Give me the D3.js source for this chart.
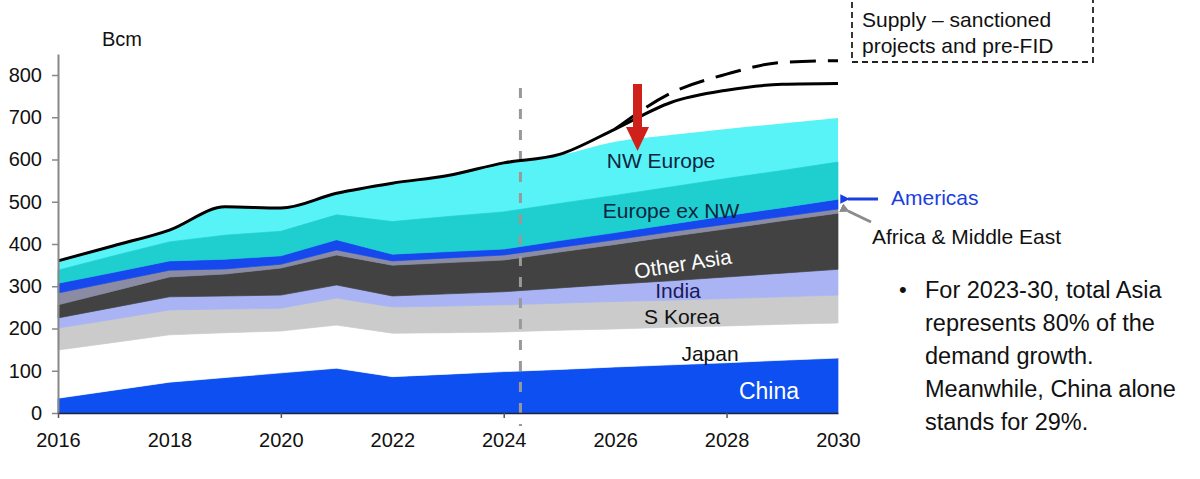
<!DOCTYPE html>
<html>
<head>
<meta charset="utf-8">
<script src="https://cdn.jsdelivr.net/npm/d3@7"></script>
<style>
  body { margin: 0; background: #fff; }
  svg { font-family: "Liberation Sans", Arial, sans-serif; }
</style>
</head>
<body>
<svg></svg>
<script>
// data (Bcm)
var years = [2016, 2017, 2018, 2019, 2020, 2021, 2022, 2023, 2024, 2025, 2026, 2027, 2028, 2029, 2030];
var china     = [35, 54, 73, 84, 95, 106, 86, 92, 98, 103, 109, 114, 119, 125, 130];
var japan     = [114, 113, 112, 106, 99, 102, 103, 98, 94, 93, 90, 89, 87, 85, 83];
var sKorea    = [52, 55, 59, 56, 54, 64, 62, 63, 64, 64, 65, 64, 65, 65, 66];
var india     = [24, 28, 31, 31, 31, 31, 26, 29, 31, 36, 41, 46, 51, 56, 61];
var otherAsia = [31, 39, 47, 52, 64, 71, 73, 74, 75, 85, 94, 105, 114, 124, 133];
var africaME  = [28, 22, 16, 12, 9, 12, 10, 11, 12, 11, 11, 11, 11, 10, 10];
var americas  = [23, 22, 22, 23, 20, 24, 16, 15, 14, 16, 17, 18, 20, 21, 23];
var europeExNW = [31, 39, 45, 57, 58, 59, 77, 83, 88, 88, 88, 88, 88, 88, 88];
var nwEurope  = [22, 24, 28, 67, 55, 51, 91, 97, 116, 114, 127, 123, 117, 111, 104];

var supply = [360, 396, 433, 488, 485, 520, 544, 562, 592, 612, 672, 735, 764, 778, 780];
var preFidYears = [2026, 2027, 2028, 2029, 2030];
var preFid = [672, 757, 802, 830, 834];

var keys = ["China", "Japan", "S Korea", "India", "Other Asia", "Africa & Middle East", "Americas", "Europe ex NW", "NW Europe"];
var series = [china, japan, sKorea, india, otherAsia, africaME, americas, europeExNW, nwEurope];
var colors = ["#0d4ff0", "#ffffff", "#cbcbcb", "#aab4f4", "#424242", "#8b8ba3", "#1648ee", "#1fcfd0", "#58f3f6"];

var xTicks = [2016, 2018, 2020, 2022, 2024, 2026, 2028, 2030];
var yTicks = [0, 100, 200, 300, 400, 500, 600, 700, 800];

// basic settings
var svgWidth = 1200, svgHeight = 479;
var left = 58, right = 838, bottom = 413;

var svg = d3.select('svg')
  .attr('width', svgWidth)
  .attr('height', svgHeight);

var x = d3.scaleLinear().domain([2016, 2030]).range([left, right]);
var y = d3.scaleLinear().domain([0, 850]).range([bottom, bottom - 850 * 0.4225]);

var rows = years.map(function(yr, i) {
  var r = { year: yr };
  keys.forEach(function(k, j) { r[k] = series[j][i]; });
  return r;
});

var stacked = d3.stack().keys(keys)(rows);
var topLayer = stacked[stacked.length - 1];

// the top layer gets the smooth edge of the total line, drawn as a backdrop
svg.append('path')
  .attr('d', d3.area()
    .x(function(d) { return x(d.data.year); })
    .y0(y(0))
    .y1(function(d) { return y(d[1]); })
    .curve(d3.curveMonotoneX)(topLayer))
  .attr('fill', colors[colors.length - 1]);

var area = d3.area()
  .x(function(d) { return x(d.data.year); })
  .y0(function(d) { return y(d[0]); })
  .y1(function(d) { return y(d[1]); });

svg.append('g').selectAll('path')
  .data(stacked.slice(0, -1))
  .enter()
  .append('path')
  .attr('d', area)
  .attr('fill', function(d, i) { return colors[i]; })
  .attr('stroke', function(d, i) { return colors[i]; })
  .attr('stroke-width', 0.7);

// forecast marker
svg.append('line')
  .attr('x1', x(2024.3)).attr('x2', x(2024.3))
  .attr('y1', 88).attr('y2', 426)
  .attr('stroke', '#999')
  .attr('stroke-width', 3)
  .attr('stroke-dasharray', '10,11');

// supply lines
var line = d3.line()
  .x(function(d) { return x(d[0]); })
  .y(function(d) { return y(d[1]); })
  .curve(d3.curveMonotoneX);

svg.append('path')
  .attr('d', line(years.map(function(yr, i) { return [yr, supply[i]]; })))
  .attr('fill', 'none')
  .attr('stroke', '#000')
  .attr('stroke-width', 3);

svg.append('path')
  .attr('d', line(preFidYears.map(function(yr, i) { return [yr, preFid[i]]; })))
  .attr('fill', 'none')
  .attr('stroke', '#000')
  .attr('stroke-width', 3)
  .attr('stroke-dasharray', '26,12');

// axes
var yAxis = d3.axisLeft(y)
  .tickValues(yTicks)
  .tickSize(6)
  .tickSizeOuter(0)
  .tickPadding(10);

var yAxisEle = svg.append('g')
  .attr('transform', 'translate(' + left + ',0)')
  .call(yAxis);
yAxisEle.select('.domain').attr('stroke', '#888').attr('stroke-width', 2);
yAxisEle.selectAll('line').attr('stroke', '#888').attr('stroke-width', 1.5);
yAxisEle.selectAll('text').attr('font-size', 20).attr('fill', '#111').attr('font-family', null);

var xAxis = d3.axisBottom(x)
  .tickValues(xTicks)
  .tickFormat(d3.format('d'))
  .tickSize(5)
  .tickSizeOuter(0)
  .tickPadding(15);

var xAxisEle = svg.append('g')
  .attr('transform', 'translate(0,' + bottom + ')')
  .call(xAxis);
xAxisEle.select('.domain').attr('stroke', '#223').attr('stroke-width', 1.5);
xAxisEle.selectAll('line')
  .attr('stroke', '#555')
  .attr('stroke-width', 1.5)
  .attr('display', function(d) { return d % 4 === 0 ? null : 'none'; });
xAxisEle.selectAll('text').attr('font-size', 20).attr('fill', '#111').attr('font-family', null);

svg.append('text')
  .attr('x', 102).attr('y', 46)
  .attr('font-size', 20).attr('fill', '#111')
  .text('Bcm');

// area labels
var labels = [
  { t: 'NW Europe', x: 661, y: 168, c: '#0b2440', s: 21, r: 0 },
  { t: 'Europe ex NW', x: 671, y: 218, c: '#0b2440', s: 21, r: 0 },
  { t: 'Other Asia', x: 684, y: 271, c: '#fff', s: 21, r: -9 },
  { t: 'India', x: 678, y: 298, c: '#1a1a5a', s: 21, r: 0 },
  { t: 'S Korea', x: 682, y: 324, c: '#111', s: 21, r: 0 },
  { t: 'Japan', x: 710, y: 361, c: '#111', s: 21, r: 0 },
  { t: 'China', x: 769, y: 399, c: '#fff', s: 23, r: 0 }
];

svg.append('g').selectAll('text')
  .data(labels)
  .enter()
  .append('text')
  .attr('transform', function(d) { return 'translate(' + d.x + ',' + d.y + ') rotate(' + d.r + ')'; })
  .attr('text-anchor', 'middle')
  .attr('font-size', function(d) { return d.s; })
  .attr('fill', function(d) { return d.c; })
  .text(function(d) { return d.t; });

// red arrow
svg.append('path')
  .attr('d', 'M633,84 L642,84 L642,127 L649,127 L637.5,151 L626,127 L633,127 Z')
  .attr('fill', '#d0201c');

// side arrows
svg.append('defs').selectAll('marker')
  .data([['blueHead', '#1a3fe0'], ['grayHead', '#8c8c8c']])
  .enter()
  .append('marker')
  .attr('id', function(d) { return d[0]; })
  .attr('viewBox', '0 0 10 10')
  .attr('refX', 2).attr('refY', 5)
  .attr('markerWidth', 3.2).attr('markerHeight', 3.2)
  .attr('orient', 'auto')
  .append('path')
  .attr('d', 'M10,0 L0,5 L10,10 Z')
  .attr('fill', function(d) { return d[1]; });

svg.append('line')
  .attr('x1', 878).attr('y1', 199).attr('x2', 848).attr('y2', 199)
  .attr('stroke', '#1a3fe0').attr('stroke-width', 3)
  .attr('marker-end', 'url(#blueHead)');

svg.append('line')
  .attr('x1', 871).attr('y1', 222).attr('x2', 848).attr('y2', 211)
  .attr('stroke', '#8c8c8c').attr('stroke-width', 3)
  .attr('marker-end', 'url(#grayHead)');

svg.append('text')
  .attr('x', 891).attr('y', 205)
  .attr('font-size', 21).attr('fill', '#1a3fe0')
  .text('Americas');

svg.append('text')
  .attr('x', 872).attr('y', 244)
  .attr('font-size', 21).attr('fill', '#111')
  .text('Africa & Middle East');

// supply legend box
svg.append('rect')
  .attr('x', 852).attr('y', -2)
  .attr('width', 241).attr('height', 64)
  .attr('fill', 'none')
  .attr('stroke', '#222')
  .attr('stroke-width', 1.8)
  .attr('stroke-dasharray', '6,4');

svg.append('text')
  .attr('x', 862).attr('y', 27)
  .attr('font-size', 21).attr('fill', '#111')
  .text('Supply \u2013 sanctioned');

svg.append('text')
  .attr('x', 862).attr('y', 53)
  .attr('font-size', 21).attr('fill', '#111')
  .text('projects and pre-FID');

// bullet note
var note = ['For 2023-30, total Asia', 'represents 80% of the', 'demand growth.', 'Meanwhile, China alone', 'stands for 29%.'];

svg.append('text')
  .attr('x', 899).attr('y', 297)
  .attr('font-size', 22).attr('fill', '#111')
  .text('\u2022');

svg.append('g').selectAll('text')
  .data(note)
  .enter()
  .append('text')
  .attr('x', 925)
  .attr('y', function(d, i) { return 298 + i * 33; })
  .attr('font-size', 23.5)
  .attr('fill', '#111')
  .text(function(d) { return d; });
</script>
</body>
</html>
